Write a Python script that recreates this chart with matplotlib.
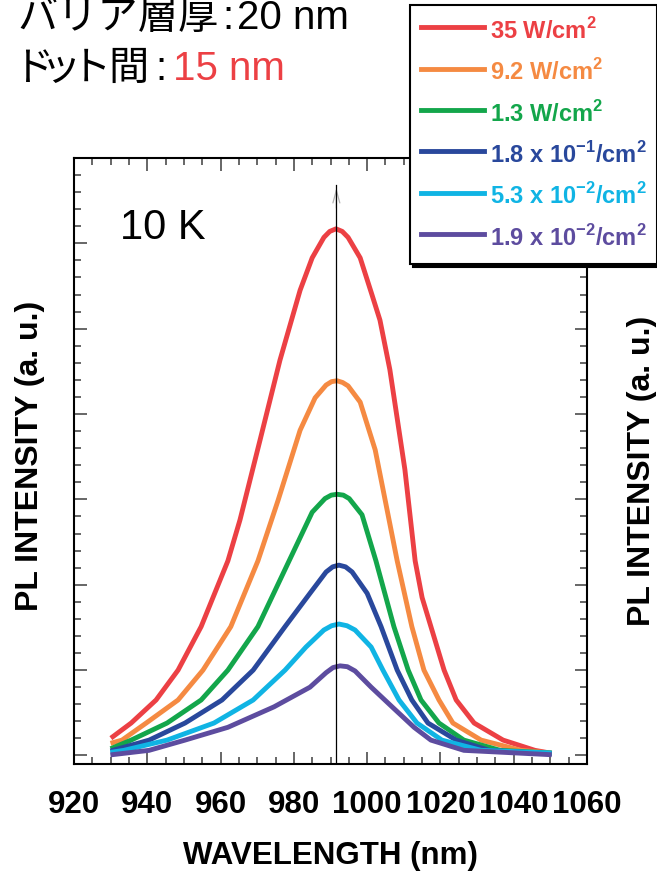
import numpy as np
import matplotlib
matplotlib.use('Agg')
import matplotlib.pyplot as plt
from matplotlib.ticker import MultipleLocator, NullFormatter

plt.rcParams['font.family'] = ['Liberation Sans', 'Noto Sans CJK JP', 'DejaVu Sans']
plt.rcParams['mathtext.fontset'] = 'custom'
plt.rcParams['mathtext.rm'] = 'Liberation Sans'
plt.rcParams['mathtext.bf'] = 'Liberation Sans:bold'

# PL spectra: wavelength (nm), intensity (a.u.)
red_x = [930.6, 935.6, 942.4, 948.4, 954.7, 962.0, 965.3, 970.8, 976.2, 981.7, 985.0, 988.2, 989.8,
         991.5, 993.2, 994.8, 998.1, 1001.3, 1003.5, 1006.2, 1010.3, 1013.1, 1015.0, 1017.4, 1021.0,
         1024.3, 1029.2, 1037.1, 1045.8, 1049.7]
red_y = [0.22, 0.38, 0.65, 1.00, 1.51, 2.28, 2.76, 3.70, 4.63, 5.45, 5.83, 6.07, 6.14,
         6.17, 6.14, 6.07, 5.83, 5.40, 5.10, 4.52, 3.35, 2.28, 1.85, 1.51, 1.00,
         0.65, 0.38, 0.18, 0.06, 0.03]
orange_x = [930.6, 933.1, 939.7, 948.4, 955.2, 962.8, 970.2, 975.7, 981.7, 985.8, 988.8, 990.3, 991.8,
            993.3, 994.8, 998.1, 1002.2, 1008.2, 1012.2, 1015.5, 1019.6, 1023.4, 1031.1, 1042.0, 1049.7]
orange_y = [0.15, 0.18, 0.38, 0.65, 1.00, 1.51, 2.28, 2.99, 3.81, 4.19, 4.34, 4.38, 4.39,
            4.37, 4.33, 4.14, 3.58, 2.28, 1.51, 1.00, 0.65, 0.38, 0.18, 0.06, 0.03]
green_x = [930.6, 935.6, 945.4, 954.7, 962.0, 970.2, 978.7, 985.0, 988.5, 990.2, 991.8,
           993.5, 995.1, 998.6, 1002.4, 1007.3, 1011.2, 1014.7, 1019.6, 1026.4, 1036.3, 1049.7]
green_y = [0.09, 0.18, 0.38, 0.65, 1.00, 1.51, 2.28, 2.85, 3.01, 3.05, 3.06,
           3.05, 3.01, 2.82, 2.28, 1.51, 1.00, 0.65, 0.38, 0.18, 0.06, 0.03]
blue_x = [930.6, 940.5, 950.3, 960.4, 968.9, 977.6, 984.4, 988.8, 990.6, 992.3,
          994.1, 995.9, 1000.0, 1003.8, 1008.2, 1012.2, 1016.6, 1024.3, 1033.3, 1049.7]
blue_y = [0.06, 0.18, 0.38, 0.65, 1.00, 1.51, 1.90, 2.15, 2.21, 2.23,
          2.21, 2.15, 1.90, 1.51, 1.00, 0.65, 0.38, 0.18, 0.06, 0.02]
cyan_x = [930.6, 933.6, 945.4, 958.2, 968.9, 977.6, 983.3, 988.2, 990.3, 992.3,
          994.5, 996.7, 1001.1, 1004.3, 1008.7, 1013.6, 1020.4, 1031.1, 1049.7]
cyan_y = [0.04, 0.06, 0.18, 0.38, 0.65, 1.00, 1.27, 1.47, 1.52, 1.54,
          1.52, 1.47, 1.27, 1.00, 0.65, 0.38, 0.18, 0.06, 0.03]
purple_x = [930.6, 940.5, 950.3, 962.0, 974.6, 984.4, 988.8, 990.7, 992.6,
            994.6, 996.7, 1001.1, 1006.8, 1012.8, 1017.4, 1026.4, 1049.7]
purple_y = [0.01, 0.06, 0.18, 0.33, 0.57, 0.80, 0.97, 1.03, 1.05,
            1.04, 0.99, 0.80, 0.57, 0.33, 0.18, 0.06, 0.01]

labels = [r'35 W/cm$^{\mathbf{2}}$',
          r'9.2 W/cm$^{\mathbf{2}}$',
          r'1.3 W/cm$^{\mathbf{2}}$',
          r'1.8 x 10$^{\mathbf{-1}}$/cm$^{\mathbf{2}}$',
          r'5.3 x 10$^{\mathbf{-2}}$/cm$^{\mathbf{2}}$',
          r'1.9 x 10$^{\mathbf{-2}}$/cm$^{\mathbf{2}}$']
colors = ['#ec4044', '#f58a42', '#13a64b', '#29489c', '#10b4e4', '#5d4c9f']
xs = [red_x, orange_x, green_x, blue_x, cyan_x, purple_x]
ys = [red_y, orange_y, green_y, blue_y, cyan_y, purple_y]

peak_nm = 991.6
arrow_top = 6.68
xtick_vals = [920, 940, 960, 980, 1000, 1020, 1040, 1060]

W, H = 657, 872
fig = plt.figure(figsize=(W / 100, H / 100), dpi=100)
ax = fig.add_axes([74 / W, 1 - 764 / H, 513 / W, 606 / H])

handles = []
for x, y, c, lab in zip(xs, ys, colors, labels):
    h, = ax.plot(x, y, color=c, lw=3.5, label=lab, solid_joinstyle='round')
    handles.append(h)

# peak marker line with open arrow head
ax.annotate('', xy=(peak_nm, arrow_top), xytext=(peak_nm, arrow_top - 0.3),
            arrowprops=dict(arrowstyle='->,head_length=0.9,head_width=0.25',
                            color='0.7', lw=0.9))
ax.plot([peak_nm, peak_nm], [-0.1, arrow_top], color='black', lw=0.9, zorder=5)

ax.text(0.09, 0.884, '10 K', transform=ax.transAxes, fontsize=30, va='center')

ax.set_xlim(920, 1060)
ax.set_ylim(-0.1, 7.0)
ax.set_xticks(xtick_vals)
ax.xaxis.set_minor_locator(MultipleLocator(5))
ax.yaxis.set_major_locator(MultipleLocator(1))
ax.yaxis.set_minor_locator(MultipleLocator(0.2))
ax.yaxis.set_major_formatter(NullFormatter())
ax.tick_params(which='both', direction='in', top=True, right=True, width=1.2, color='0.3')
ax.tick_params(which='major', length=9)
ax.tick_params(which='minor', length=5)
ax.tick_params(axis='x', labelsize=22.5, pad=19)
for t in ax.get_xticklabels():
    t.set_fontweight('bold')
for s in ax.spines.values():
    s.set_linewidth(1.5)

ax.set_xlabel('WAVELENGTH (nm)', fontsize=22.5, fontweight='bold', va='top')
ax.xaxis.set_label_coords(0.5, -0.127)

fig.text(30 / W, 1 - 456 / H, 'PL INTENSITY (a. u.)', rotation=90, fontsize=23,
         fontweight='bold', ha='center', va='center')
fig.text(642 / W, 1 - 471 / H, 'PL INTENSITY (a. u.)', rotation=90, fontsize=23,
         fontweight='bold', ha='center', va='center')

# heading lines (kana placed one by one, the original uses proportional kana)
fs_head = 29
fig.text(17 / W, 1 - 29 / H, 'バリア層厚', fontsize=fs_head, va='baseline')
fig.text(222 / W, 1 - 29 / H, ':', fontsize=fs_head, va='baseline')
fig.text(237 / W, 1 - 29 / H, '20 nm', fontsize=fs_head, va='baseline')
for ch, px in zip(['ド', 'ッ', 'ト', '間'], [13, 41, 71, 108]):
    fig.text(px / W, 1 - 80 / H, ch, fontsize=fs_head, va='baseline')
fig.text(155 / W, 1 - 80 / H, ':', fontsize=fs_head, va='baseline')
fig.text(173 / W, 1 - 80 / H, '15 nm', fontsize=fs_head, va='baseline', color='#ec4044')

leg = fig.legend(handles=handles, loc='upper left', bbox_to_anchor=(410 / W, 1 - 5 / H),
                 frameon=True, fancybox=False, shadow={'color': 'black', 'alpha': 1},
                 edgecolor='black', framealpha=1, labelcolor='linecolor',
                 prop={'weight': 'bold', 'size': 17}, handlelength=2.67,
                 handletextpad=0.25, labelspacing=0.47, handleheight=1.6,
                 borderpad=0.45, borderaxespad=0)
leg.get_frame().set_linewidth(1.5)

fig.savefig('out.png', dpi=100)
